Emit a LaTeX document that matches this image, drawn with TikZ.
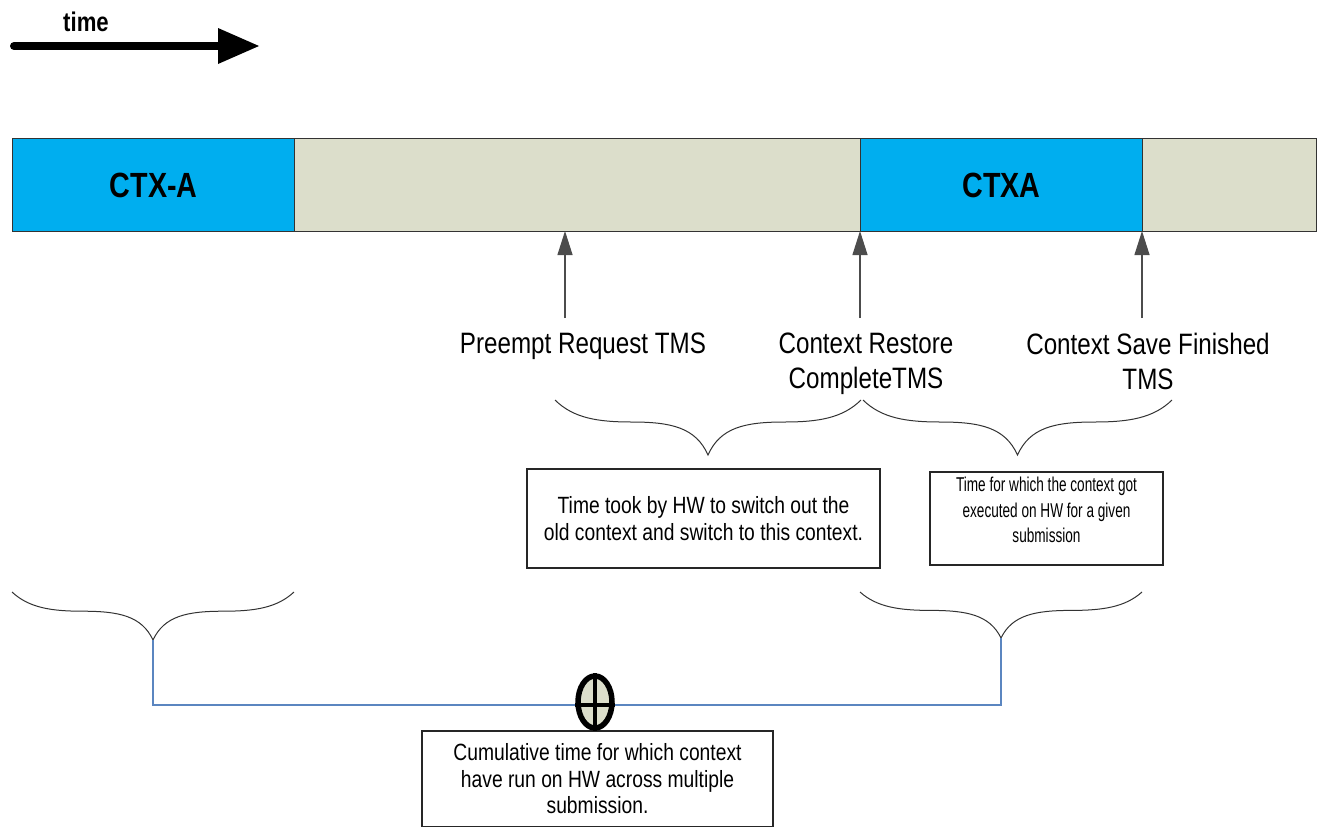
\documentclass[tikz,border=0pt]{standalone}
\usepackage{fontspec}
\setmainfont{Liberation Sans}[FakeStretch=0.82]
\newfontfamily\narrowfont{Liberation Sans}[FakeStretch=0.68]
\usetikzlibrary{arrows.meta,shapes.geometric}
\definecolor{ctxblue}{HTML}{00AEEF}
\definecolor{idlegrey}{HTML}{DCDECB}
\definecolor{linkblue}{HTML}{5B86C0}
\begin{document}
\begin{tikzpicture}[x=1pt,y=-1pt,
  seg/.style={draw=black!80,line width=1.2pt,minimum height=93pt,inner sep=0pt,anchor=north west,
    font=\bfseries\fontsize{35}{38}\selectfont},
  lbl/.style={font=\fontsize{29.5}{35}\selectfont,align=center,inner sep=0pt},
  notebox/.style={draw=black!85,line width=1.8pt,align=center,inner sep=0pt,
    font=\fontsize{23.5}{26.5}\selectfont},
  uparrow/.style={line width=1.2pt,black!70,-{Triangle[length=24pt,width=15pt]}},
  bracepath/.style={line width=1pt,black!80},
]
\useasboundingbox (0,0) rectangle (1320,827);
% time arrow
\node[font=\bfseries\fontsize{27}{30}\selectfont,inner sep=0pt] (timelbl) at (86,22) {time};
\coordinate (tstart) at (14,46);
\coordinate (tend) at (220,46);
\draw[line width=8pt,line cap=round] (tstart) -- (tend);
\fill (218,28) -- (259,46) -- (218,64) -- cycle;
% bar
\node[seg,fill=ctxblue,minimum width=282pt] (s1) at (12,138) {CTX-A};
\node[seg,fill=idlegrey,minimum width=566pt] (s2) at (294,138) {};
\node[seg,fill=ctxblue,minimum width=282pt] (s3) at (860,138) {CTXA};
\node[seg,fill=idlegrey,minimum width=174pt] (s4) at (1142,138) {};
% up arrows
\coordinate (a1t) at (565,231); \coordinate (a1b) at (565,318);
\coordinate (a2t) at (860,231); \coordinate (a2b) at (860,318);
\coordinate (a3t) at (1142,231); \coordinate (a3b) at (1142,318);
\draw[uparrow] (a1b) -- (a1t);
\draw[uparrow] (a2b) -- (a2t);
\draw[uparrow] (a3b) -- (a3t);
% labels
\node[lbl,anchor=north] (l1) at (583,333) {Preempt Request TMS};
\node[lbl,anchor=north] (l2) at (866,333) {Context Restore\\CompleteTMS};
\node[lbl,anchor=north] (l3) at (1148,333) {Context Save Finished\\TMS};
% braces
\newcommand{\mybrace}[4]{%
  \pgfmathsetmacro{\bw}{#2-#1}%
  \pgfmathsetmacro{\bm}{(#1+#2)/2}%
  \draw[bracepath] (#1,#3)
    .. controls ({#1+0.06*\bw},{#3+0.33*#4}) and ({#1+0.14*\bw},{#3+0.4*#4}) .. ({#1+0.25*\bw},{#3+0.4*#4})
    .. controls ({#1+0.38*\bw},{#3+0.4*#4}) and ({\bm-0.04*\bw},{#3+0.5*#4}) .. (\bm,{#3+#4})
    .. controls ({\bm+0.04*\bw},{#3+0.5*#4}) and ({#2-0.38*\bw},{#3+0.4*#4}) .. ({#2-0.25*\bw},{#3+0.4*#4})
    .. controls ({#2-0.14*\bw},{#3+0.4*#4}) and ({#2-0.06*\bw},{#3+0.33*#4}) .. (#2,#3);}
\mybrace{555}{861}{400}{55}
\mybrace{863}{1172}{400}{55}
\mybrace{12}{294}{592}{48}
\mybrace{860}{1142}{592}{46}
% note boxes
\node[notebox,minimum width=353pt,minimum height=99pt] (n1) at (703.5,518.5)
  {Time took by HW to switch out the\\old context and switch to this context.};
\node[notebox,minimum width=233pt,minimum height=93pt] (n2) at (1046.5,518.5) {};
\node[font=\narrowfont\fontsize{20}{25.5}\selectfont,align=center,inner sep=0pt,anchor=north]
  (n2t) at ([yshift=-6pt]n2.north)
  {Time for which the context got\\executed on HW for a given\\submission};
\node[notebox,minimum width=351pt,minimum height=96pt,anchor=north] (n3) at (597.5,730)
  {Cumulative time for which context\\have run on HW across multiple\\submission.};
% cumulative link
\coordinate (tipL) at (153,640);
\coordinate (tipR) at (1001,638);
\node[draw=black,line width=5.5pt,fill=idlegrey,ellipse,minimum width=34pt,minimum height=52pt,inner sep=0pt] (sum) at (595,702) {};
\draw[linkblue,line width=1.8pt] (tipL) |- (153,705) -- (sum.west |- 0,705);
\draw[linkblue,line width=1.8pt] (sum.east |- 0,705) -- (1001,705) -- (tipR);
\draw[line width=3.5pt] (sum.north) -- (sum.south);
\draw[line width=3.5pt] (sum.west |- 0,705) -- (sum.east |- 0,705);
\end{tikzpicture}
\end{document}
